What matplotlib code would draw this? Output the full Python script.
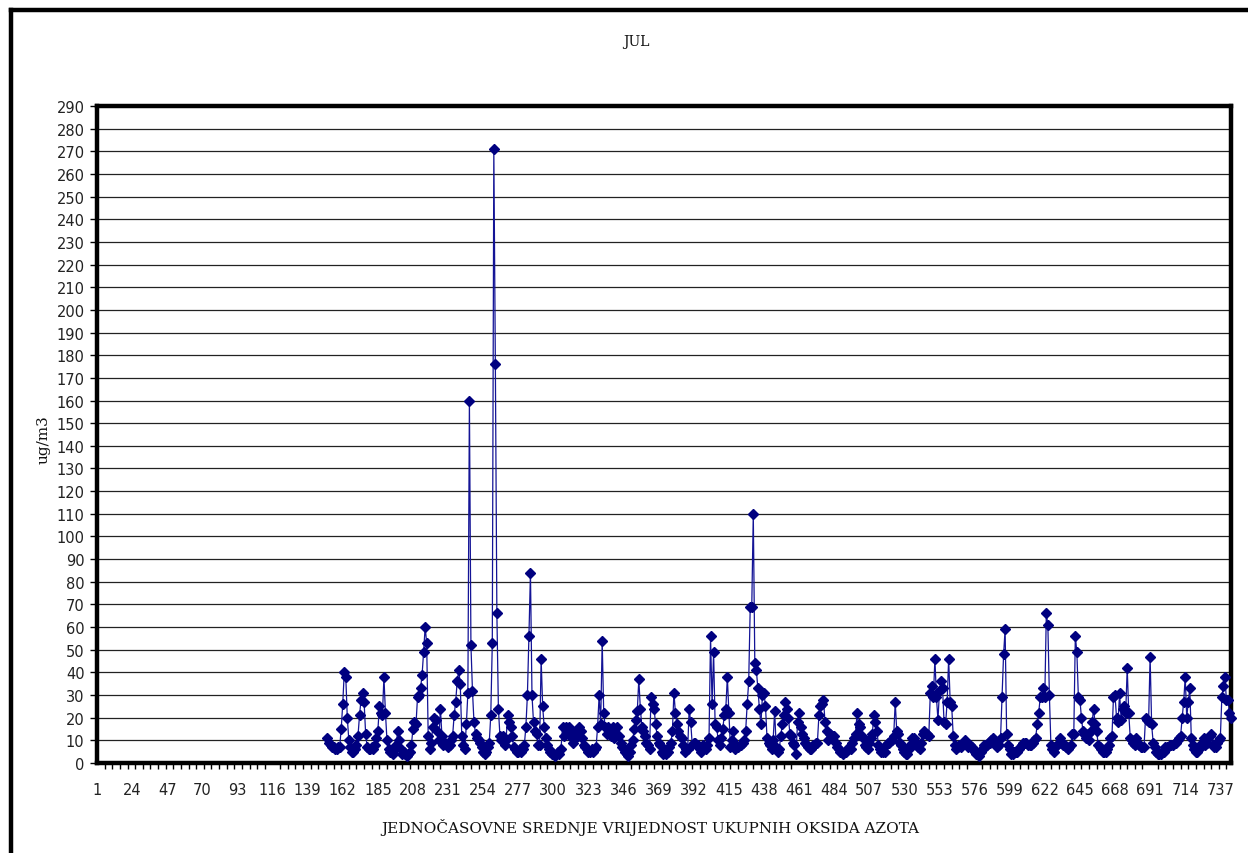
import matplotlib
matplotlib.use('Agg')
import matplotlib.pyplot as plt  # NOQA
from matplotlib.lines import Line2D  # NOQA
import numpy as np  # NOQA

# hourly NOx means for July, first measured hour is 152
start_hour = 152
last_hour = 744

nox_a = [11, 9, 8, 7, 7, 6, 6, 7, 7, 15,
         26, 40, 38, 20, 10, 7, 5, 5, 6, 8,
         12, 21, 28, 31, 27, 13, 7, 6, 6, 7,
         6, 8, 11, 14, 25, 22, 21, 38, 22, 10,
         6, 5, 5, 4, 6, 8, 14, 10, 6, 4,
         5, 4, 3, 4, 5, 8, 15, 18, 17, 29,
         30, 33, 39, 49, 60, 53, 12, 6, 9, 16,
         20, 19, 14, 10, 24, 12, 8, 9, 8, 7,
         8, 10, 12, 21, 27, 36, 41, 35, 12, 8,
         6, 17, 31, 160, 52, 32, 18, 13, 11, 10]
nox_b = [9, 7, 5, 4, 5, 7, 9, 21, 53, 271,
         176, 66, 24, 12, 10, 12, 8, 10, 21, 18,
         16, 12, 7, 6, 5, 5, 6, 5, 6, 8,
         16, 30, 56, 84, 30, 18, 14, 13, 8, 8,
         46, 25, 16, 11, 8, 6, 5, 4, 4, 3,
         4, 5, 4, 6, 16, 12, 16, 14, 16, 13,
         11, 9, 11, 14, 12, 16, 14, 11, 8, 7,
         6, 5, 5, 6, 5, 6, 7, 16, 30, 17,
         54, 22, 16, 13, 16, 14, 12, 16, 11, 13,
         16, 12, 9, 7, 6, 5, 4, 3, 5, 8]
nox_c = [10, 15, 19, 23, 37, 24, 16, 14, 12, 9,
         8, 6, 29, 26, 24, 17, 12, 9, 8, 5,
         4, 5, 4, 5, 7, 9, 14, 31, 22, 17,
         14, 12, 11, 8, 5, 6, 6, 24, 18, 8,
         9, 9, 8, 8, 6, 5, 8, 7, 6, 8,
         11, 56, 26, 49, 17, 16, 10, 8, 11, 15,
         21, 24, 38, 22, 7, 10, 14, 6, 8, 7,
         8, 8, 9, 10, 14, 26, 36, 69, 69, 110,
         44, 41, 33, 24, 17, 30, 31, 25, 11, 9,
         8, 6, 10, 23, 7, 5, 6, 12, 17, 21]
nox_d = [27, 24, 20, 13, 12, 9, 8, 4, 18, 22,
         16, 13, 11, 9, 8, 7, 6, 6, 8, 8,
         9, 9, 21, 25, 26, 28, 18, 14, 10, 13,
         11, 12, 12, 9, 7, 6, 5, 5, 4, 5,
         5, 6, 7, 6, 9, 11, 13, 22, 17, 16,
         12, 11, 8, 7, 6, 9, 11, 13, 21, 18,
         14, 8, 6, 5, 5, 5, 8, 9, 9, 10,
         10, 12, 27, 14, 13, 9, 8, 6, 5, 4,
         4, 6, 8, 11, 11, 9, 8, 7, 6, 9,
         13, 14, 13, 13, 12, 31, 34, 29, 46, 29]
nox_e = [19, 32, 36, 33, 18, 17, 27, 46, 27, 25,
         12, 8, 6, 7, 8, 7, 8, 9, 10, 8,
         7, 8, 7, 6, 5, 4, 4, 3, 5, 6,
         8, 7, 8, 9, 9, 10, 11, 9, 8, 7,
         8, 11, 29, 48, 59, 13, 8, 6, 4, 4,
         5, 5, 5, 6, 7, 8, 9, 9, 9, 8,
         8, 8, 9, 10, 11, 17, 22, 29, 29, 33,
         29, 66, 61, 30, 8, 6, 5, 7, 8, 9,
         11, 9, 8, 8, 7, 6, 7, 8, 13, 13,
         56, 49, 29, 28, 20, 14, 13, 11, 13, 10]
nox_f = [14, 18, 24, 17, 14, 8, 7, 6, 5, 5,
         5, 6, 8, 11, 12, 29, 30, 20, 18, 31,
         19, 24, 25, 22, 42, 22, 11, 10, 9, 8,
         11, 9, 8, 7, 7, 7, 20, 19, 18, 47,
         17, 9, 7, 5, 4, 4, 4, 5, 5, 7,
         7, 7, 8, 8, 8, 9, 9, 10, 11, 12,
         20, 27, 38, 20, 27, 33, 11, 8, 6, 5,
         5, 6, 7, 9, 11, 8, 9, 11, 12, 13,
         8, 7, 7, 9, 10, 11, 29, 34, 38, 28,
         28, 22, 20]

x_labels = list(range(1, 738, 23))
y_ticks = list(range(0, 291, 10))

title = 'JUL'
x_title = 'JEDNOČASOVNE SREDNJE VRIJEDNOST UKUPNIH OKSIDA AZOTA'
y_title = 'ug/m3'

navy = '#000080'
serif = ['DejaVu Serif']


def main():
    values = np.array(nox_a + nox_b + nox_c + nox_d + nox_e + nox_f)
    hours = np.arange(start_hour, start_hour + len(values))

    fig = plt.figure(figsize=(12.48, 8.54), dpi=100)
    fig.patch.set_facecolor('white')

    # outer chart frame (only left and top edges are visible)
    fig.add_artist(Line2D([11 / 1248, 11 / 1248], [0, 1 - 11 / 854],
                          color='black', lw=3.2, transform=fig.transFigure))
    fig.add_artist(Line2D([11 / 1248, 1], [1 - 11 / 854, 1 - 11 / 854],
                          color='black', lw=3.2, transform=fig.transFigure))

    ax = fig.add_axes([97 / 1248, 1 - 764 / 854,
                       (1231 - 97) / 1248, (764 - 107) / 854])
    ax.plot(hours, values, color='#141496', lw=0.9, marker='D',
            markersize=5.0, markerfacecolor=navy, markeredgecolor=navy,
            zorder=3, clip_on=False)

    ax.set_xlim(1, last_hour)
    ax.set_ylim(0, 290)
    ax.set_yticks(y_ticks)
    ax.set_xticks(x_labels)
    ax.set_xticks(np.arange(1, last_hour + 1, 5), minor=True)
    ax.tick_params(axis='x', which='major', length=0, pad=14,
                   labelsize=10.5, colors='#222222')
    ax.tick_params(axis='x', which='minor', length=4, width=1,
                   direction='out', color='black')
    ax.tick_params(axis='y', which='major', length=5, width=1, pad=4,
                   labelsize=10.5, colors='#222222')
    ax.tick_params(axis='y', which='major', color='black')
    ax.grid(axis='y', color='#222222', lw=0.9, zorder=1)
    ax.set_axisbelow(True)
    for sp in ax.spines.values():
        sp.set_linewidth(3.2)
        sp.set_color('black')

    fig.text(636 / 1248, 1 - 42 / 854, title, ha='center', va='center',
             family=serif, fontsize=10, color='#111111')
    fig.text(650 / 1248, 1 - 828 / 854, x_title, ha='center', va='center',
             family=serif, fontsize=11, color='#111111')
    fig.text(44 / 1248, 1 - 440 / 854, y_title, ha='center', va='center',
             rotation=90, family=serif, fontsize=11, color='#111111')

    fig.savefig('out.png', dpi=100, facecolor='white')


if __name__ == '__main__':
    main()
